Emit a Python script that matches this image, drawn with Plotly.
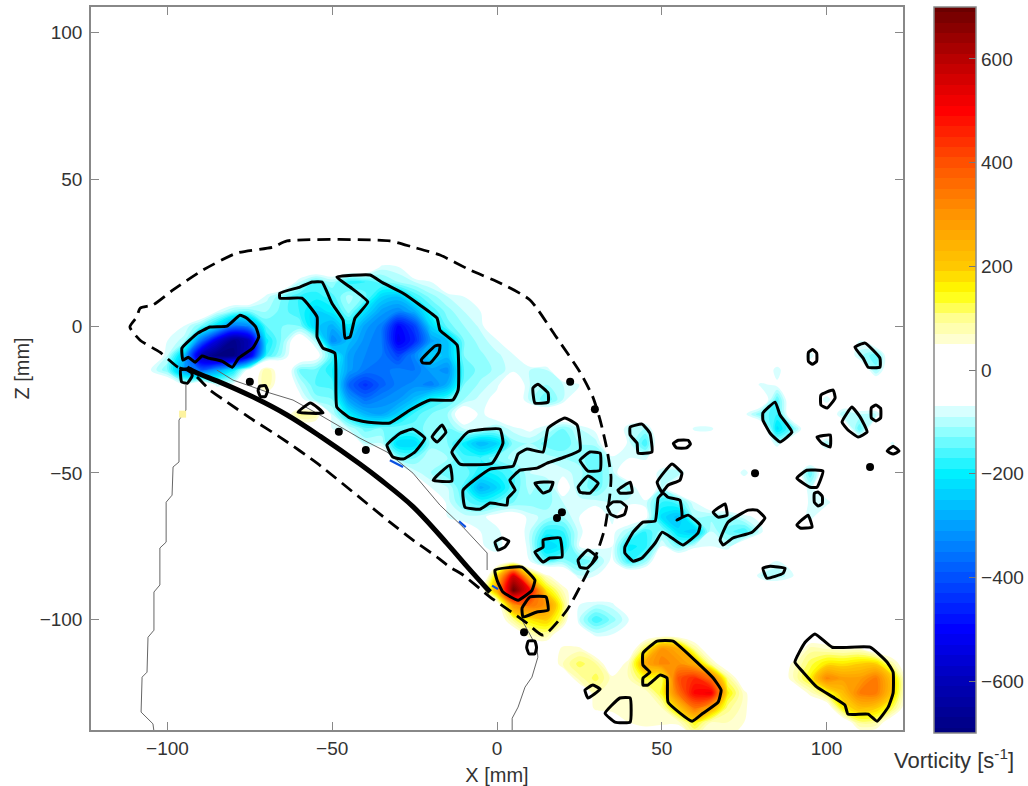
import plotly.graph_objects as go

# vorticity grid (s^-1): rows by Z [mm], each row as (first X, values at 5 mm steps)
x_grid = list(range(-105, 130, 5))
z_grid = list(range(115, -145, -5))
empty_rows_above = [[] for _ in range(18)]
row_25 = []
row_20 = [(-35, [-80, -75])]
row_15 = [(-60, [-90, -150, -110, -180, -170, -140, -110, -90, -70])]
row_10 = [(-70, [-80, -130, -170, -180, -160, -100, -140, -230, -250, -170, -120, -90, -70])]
row_5 = [(-85, [-70, -120, -130, -110, -140, -170, -230, -200, -120, -220, -300, -330, -280, -170, -120, -90, -70])]
row_0 = [(-95, [-70, -130, -220, -350, -320, -150, -130, -130, -240, -280, -200, -300, -340, -500, -420, -230, -140, -110, -85])]
row_m5 = [(-100, [-70, -100, -350, -550, -680, -600, -200, -120, -20, -100, -330, -260, -320, -350, -520, -450, -300, -250, -130, -100, -75]), (110, [-70])]
row_m10 = [(-100, [-90, -250, -600, -700, -700, -550, -170, -100, -10, -40, -160, -300, -330, -350, -420, -330, -230, -260, -130, -115, -95, -75]), (95, [-90]), (110, [-100, -150])]
row_m15 = [(-105, [-70, -130, -300, -380, -300, -200, -40, 95, 0, -130, -140, -190, -300, -350, -360, -340, -350, -300, -320, -150, -120, -105, -75, -90, -90]), (85, [-90]), (115, [-120])]
row_m20 = [(-95, [-60, 0, -80, -60, 0, 95, 0, -90, -150, -160, -370, -440, -380, -340, -320, -340, -280, -130, -105, -75, -30, -90, -110, -90, -70]), (80, [-80, -60])]
row_m25 = [(-65, [0, -50, -120, -130, -300, -360, -330, -310, -260, -180, -150, -110, -80, -60, -20, -100, -150, -90]), (85, [-150]), (100, [-90])]
row_m30 = [(-60, [100, 90, -90, -200, -270, -290, -240, -160, -130, -110, -20, -80, -40, 0]), (75, [-60, -130, -170]), (105, [-110, -90]), (115, [-90])]
row_m35 = [(-50, [-70, -90, -140, -130, -130, -140, -120, -130, -90, -90, -110, -80, -60, -90, -130, -90, -60]), (40, [-100, -110]), (60, [-80, -80]), (85, [-220, -130]), (110, [-150])]
row_m40 = [(-40, [-90, -90, -230, -230, -120, -130, -200, -270, -230, -120, -110, -140, -150, -110, -100]), (40, [-80, -170]), (85, [-90]), (100, [-110]), (120, [-80])]
row_m45 = [(-30, [-120, -130, -90, -110, -160, -170, -130, -100, -90, -100, -110, -120, -150, -80]), (40, [-70, -80])]
row_m50 = [(-25, [-80, -110, -150, -130, -190, -180, -150, -90, -70, -80, -100, -150, -100]), (50, [-100, -110]), (75, [-90]), (95, [-150])]
row_m55 = [(-20, [-70, -90, -160, -280, -230, -150, -100, -130, -40, -110, -150, -90, -120]), (50, [-100]), (70, [-70]), (95, [-90])]
row_m60 = [(-15, [-80, -140, -170, -150, -130, -120, -120, -90, -80, -80, -90, -80, -80, -170, -150, -70]), (95, [-80, -90])]
row_m65 = [(-15, [-70, -80, -80, -50, -40, -80, -100, -110, -70, -40, -80, -20, -50, -220, -260, -110, -120, -110, -80, -60]), (95, [-90])]
row_m70 = [(-10, [-50, -70, -80, -30, -90, -180, -170, -80, -30, -60, -110, -170, -120, -220, -250, -90, -140, -170, -80])]
row_m75 = [(-5, [-60, -100, 0, -90, -230, -200, -70, -60, -70, -200, -180, -70, -130, -80, -70, -90])]
row_m80 = [(0, [-20, 0, -70, -150, -120, -150, -120, -60, -170, -120]), (85, [-70])]
row_m85 = [(-5, [-70, 180, 550, 180, 60, 0, -90, -70]), (80, [-90, -110, -70])]
row_m90 = [(0, [250, 700, 500, 170, 70])]
row_m95 = [(5, [300, 350, 300, 120, -70, -90, -80])]
row_m100 = [(5, [100, 170, 200, 100, -90, -170, -120, -70])]
row_m105 = [(10, [70, 90, 0, -30, -80, -70, -60])]
row_m110 = [(20, [60, 60, 0, 0, 0, 130, 300, 250, 90]), (95, [80, 70, 60, 60])]
row_m115 = [(20, [70, 120, 90, 0, 70, 260, 320, 300, 250, 80]), (90, [60, 120, 170, 170, 190, 190, 80])]
row_m120 = [(25, [80, 120, 60, 70, 140, 120, 400, 450, 350, 100]), (90, [70, 150, 320, 280, 280, 340, 200])]
row_m125 = [(30, [70, 60, 70, 50, 140, 350, 500, 520, 160, 60]), (95, [60, 130, 220, 330, 340, 200])]
row_m130 = [(30, [60, 70, 60, 60, 70, 200, 350, 250, 100, 60]), (105, [160, 220, 200, 120])]
row_m135 = [(40, [50, 70, 60, 60, 150, 70, 70, 50]), (110, [100, 90])]
row_m140 = [(60, [60, 60, 60])]

all_rows = empty_rows_above + [row_25, row_20, row_15, row_10, row_5, row_0, row_m5, row_m10, row_m15, row_m20, row_m25, row_m30,
            row_m35, row_m40, row_m45, row_m50, row_m55, row_m60, row_m65, row_m70, row_m75, row_m80, row_m85,
            row_m90, row_m95, row_m100, row_m105, row_m110, row_m115, row_m120, row_m125, row_m130, row_m135, row_m140]

# colour table
cs_vals = [-700, -600, -500, -400, -300, -200, -120, -80, -66, 44, 60, 100, 150, 200, 300, 400, 500, 600, 700]
cs_cols = ["#000080", "#0000b8", "#0000ff", "#0050ff", "#00a0ff", "#00f0ff", "#90ffff", "#d8ffff", "#ffffff",
           "#ffffff", "#ffffd0", "#ffff90", "#ffff00", "#ffc800", "#ff9400", "#ff5000", "#ff0000", "#b80000", "#6a0000"]

# black contour outlines, X/Z in mm
outline_main = [(-48.6,16.7),(-38.5,17.4),(-34.6,14.7),(-28.5,11.2),(-23.4,7.2),(-18.2,2.7),(-17.3,-1.4),(-12.1,-6.5),(-11.8,-21.8),(-13.4,-25.2),(-20.3,-25.2),(-26.4,-28.6),(-32.5,-33),(-39.5,-32.7),(-44.6,-31.3),(-48.6,-27.6),(-49.2,-9.2),(-52.8,-7.5),(-54.6,-3.7),(-54.6,3.1),(-59.2,9.5),(-65.9,9.5),(-65.9,11.2),(-59.8,13.3),(-56.1,15),(-53.1,15),(-50.1,7.8),(-46.7,2),(-46.1,-4.1),(-44.6,-3.7),(-43.1,2.7),(-39.2,8.2),(-44.6,13.3)]
outline_hole = [(-23,-11.6),(-18.8,-6.8),(-17.3,-6.5),(-17.6,-8.9),(-20.3,-12.6),(-22.5,-12.6)]
outline_dark = [(-95.6,-7.5),(-90.8,-2.4),(-87.1,-0.3),(-81.9,0),(-78,3.7),(-75.9,2.7),(-73.2,-0.3),(-72.3,-3.7),(-74.1,-7.5),(-78.4,-10.9),(-80.3,-14),(-83.3,-12),(-87.6,-10.9),(-89.5,-10.2),(-91.6,-12.3),(-93.7,-10.6),(-95.3,-11.6)]
outline_tip = [(-96,-15),(-93,-14.5),(-92.5,-17),(-94,-19.5),(-95.7,-19)]
outline_ring = [(-72,-20.5),(-70.3,-20.3),(-69.6,-22),(-70.3,-24),(-71.8,-24),(-72.5,-22)]
outline_tri = [(-60.4,-29.3),(-56.7,-26.2),(-54.3,-27.9),(-52.8,-29.6),(-58.3,-29.6)]
outline_a = [(-33.4,-40.5),(-29.4,-36.5),(-25.5,-35.1),(-21.9,-38.2),(-24.9,-42.9),(-28.5,-45.3),(-31.6,-44.6)]
outline_b = [(-19.7,-37.8),(-16.7,-33.7),(-15.5,-36.1),(-18.2,-39.5)]
outline_c = [(-13.7,-42.9),(-8.8,-36.1),(0.9,-35.1),(1.8,-39.9),(-1.5,-46.7),(-11.2,-47)]
outline_d = [(-19.4,-52.5),(-14.3,-47.4),(-13.7,-52.8)]
outline_e = [(-10.3,-55.9),(-2.1,-48.7),(4.9,-47.7),(6.4,-43.6),(9.1,-41.9),(14,-42.9),(15.5,-34.8),(20.6,-31.3),(24.3,-33.7),(25.2,-42.2),(20.6,-44.6),(15.2,-46.7),(12.1,-48.4),(7,-49.1),(3.9,-52.5),(5.5,-55.9),(3.3,-58.6),(3,-61),(-2.1,-60.3),(-5.2,-62.4),(-9.7,-61.7)]
outline_f = [(10.9,-21.1),(12.4,-19.8),(15.5,-22.8),(15.5,-25.9),(11.5,-26.2)]
outline_g = [(25.2,-45.7),(28.2,-42.9),(31.3,-43.3),(31.3,-49.1),(27.6,-49.4)]
outline_h = [(11.5,-53.5),(17,-53.2),(16.1,-55.9),(14,-56.9)]
outline_i = [(24.6,-54.9),(27.6,-51.1),(30.7,-53.5),(28.2,-56.9),(25.2,-56.6)]
outline_k = [(-0.6,-73.6),(1.5,-72.2),(3.6,-73.3),(2.4,-75.3),(0.3,-76.3)]
outline_l = [(14,-72.9),(19.1,-72.2),(19.7,-78.7),(16,-79),(14,-80.4),(11.5,-77),(14,-75.3)]
outline_m = [(24.6,-79.7),(27.6,-76.3),(30.3,-78.7),(27.3,-82.5),(25.2,-82.1)]
outline_n = [(-0.6,-83.1),(7.6,-82.1),(11.5,-86.5),(10.6,-90),(6.4,-93.4),(1.8,-90.6),(0,-86.5)]
outline_o = [(10,-92.3),(14.9,-92.3),(15.5,-96.8),(12.1,-97.4),(7.9,-99.1),(7.6,-96.1)]
outline_ring2 = [(9.5,-107.3),(11.5,-107.3),(12,-109.5),(11.5,-111.6),(9.7,-111.6),(9,-109.5)]
outline_p = [(40.4,-34.4),(44,-33.4),(46.4,-36.5),(47,-42.9),(42.8,-43.3),(42.5,-39.9),(40.4,-37.1)]
outline_q = [(53.5,-40),(55,-38.9),(58,-38.9),(58.7,-40.2),(57.5,-41.5),(54.5,-41.5)]
outline_r = [(48.6,-53.2),(53.1,-47),(56.1,-50.1),(55.5,-52.5),(51.9,-54.2),(50.1,-56.6)]
outline_s = [(36.7,-55.9),(40.4,-53.2),(41,-56.6),(37.3,-56.9)]
outline_t = [(33.5,-61.5),(35.3,-59.9),(37.5,-59.9),(39.3,-61.5),(38.7,-64.1),(36.5,-65),(34.5,-64.1)]
outline_u = [(38.8,-75.3),(41.3,-70.2),(44.3,-66.8),(48,-66.4),(48.9,-58.6),(50.4,-56.9),(51.9,-58.3),(55.5,-59.3),(56.1,-65.1),(54.6,-66.1),(58,-64.4),(61.6,-67.8),(61,-70.5),(56.4,-74.6),(53.1,-72.2),(50.1,-70.2),(48,-73.9),(44,-79),(41.3,-80.1),(38.8,-77.3)]
outline_v = [(65.6,-63.4),(69.2,-60.6),(69.8,-64.4),(67.1,-65.1)]
outline_w = [(67.7,-72.9),(70.1,-66.8),(76.2,-62.7),(78.9,-62.7),(81.3,-65.4),(77.4,-70.2),(71.6,-72.2),(68.6,-74.6)]
outline_x = [(80.7,-82.5),(82.9,-81.8),(87.4,-82.5),(86.8,-84.2),(81.9,-85.9)]
outline_y = [(80.7,-29.6),(84.4,-25.9),(85.9,-30.3),(89.5,-36.1),(85.9,-39.5),(82.9,-36.5),(80.7,-32)]
outline_z = [(94.5,-9),(95.8,-8),(97,-9.2),(97,-12),(95.7,-13),(94.5,-12)]
outline_aa = [(108.6,-7.2),(111.7,-5.8),(116.2,-10.9),(116.2,-14),(112.6,-14),(111.1,-10.9)]
outline_ab = [(98.3,-23.5),(102,-21.8),(102.6,-24.5),(100.2,-27.9),(98.3,-26.9)]
outline_ac = [(104.7,-32.7),(107.7,-27.6),(110.2,-31),(112.3,-36.1),(109.6,-37.8),(106.5,-35.4)]
outline_ad = [(113.6,-27.8),(115,-26.9),(116.4,-28),(116.4,-31.3),(115,-32.3),(113.6,-31.3)]
outline_ae = [(97.1,-37.8),(101.1,-37.1),(101.1,-41.2),(98.6,-39.9)]
outline_af = [(118.4,-42.6),(120.2,-40.9),(122,-42.6),(120.2,-43.6)]
outline_ag = [(91,-51.8),(94,-49.1),(98.9,-49.4),(97.1,-54.9),(95,-54.9)]
outline_ah = [(96.3,-57),(97.4,-56.5),(98.7,-58),(98.7,-60.5),(97.4,-61.3),(96.3,-60)]
outline_ai = [(91,-67.8),(94.4,-64.4),(95.6,-68.5),(92,-68.8)]
outline_aj = [(44.3,-111.4),(48.6,-107.3),(53.4,-107.3),(61.6,-115.5),(65.6,-119.9),(68,-124),(67.1,-128.1),(62.5,-131.9),(59.2,-134.6),(51.9,-128.1),(51.6,-119.9),(49.5,-118.9),(45.8,-122.3),(44.3,-122.3),(44.3,-119.9),(46.4,-117.9),(44.3,-115.5)]
outline_ak = [(90.4,-114.5),(93.5,-107.7),(96.5,-104.9),(101.7,-109.4),(113.2,-109.4),(118.4,-114.5),(120.2,-117.9),(120.2,-125),(118.7,-129.8),(115.3,-134.6),(112.6,-132.2),(106.5,-132.2),(105.6,-129.1),(102,-126.4),(97.1,-123),(92.9,-117.9)]
outline_al = [(26.7,-124),(29.1,-122.3),(31.3,-123.7),(27.6,-126.7)]
outline_am = [(32.8,-131.9),(37.3,-126.7),(40.4,-126.7),(40.4,-134.9),(35.8,-134.9)]
closed_outlines = [outline_main, outline_hole, outline_dark, outline_tip, outline_ring, outline_tri, outline_a, outline_b,
                   outline_c, outline_d, outline_e, outline_f, outline_g, outline_h, outline_i, outline_k, outline_l,
                   outline_m, outline_n, outline_o, outline_ring2, outline_p, outline_q, outline_r, outline_s, outline_t,
                   outline_u, outline_v, outline_w, outline_x, outline_y, outline_z, outline_aa, outline_ab, outline_ac,
                   outline_ad, outline_ae, outline_af, outline_ag, outline_ah, outline_ai, outline_aj, outline_ak,
                   outline_al, outline_am]

# small solid contour dots
dots_x = [-75, -48, -39.8, 22.2, 29.7, 19.7, 18.2, 8.2, 78.3, 113.2]
dots_z = [-19, -36, -42.2, -19, -28.3, -63.4, -65.4, -104.3, -50.1, -48]

# airfoil section (thick), wake boundary (dashed), and measured surface (thin)
foil_x = [-94.1, -91, -84.1, -74, -63.7, -53.7, -41.6, -35.5, -25.5, -15.2, -9, -2.1]
foil_z = [-14.3, -16, -19.1, -24.2, -30.3, -37.5, -47, -52.2, -61.5, -74, -82, -90.6]
bound_x = [-94, -96.8, -102.3, -108.3, -111.4, -109.3, -108.3, -104.4, -98.3, -89.2, -78.9, -68, -63.7, -32.5, -25.5, -17.3, -8.2, 0.9, 10, 17.6, 25.2, 29.1, 31.3, 33.4, 34.6, 34.3, 32.8, 30.3, 27.3, 21.2, 14, 9.1, 4.9, -2.1, -10.3, -14.3, -18.2, -25.5, -32.5, -54.6, -65.9, -74, -81.9, -87.1, -91, -94]
bound_z = [-15, -14, -8.9, -4.8, -0.3, 3.1, 6.1, 7.2, 12.3, 19.1, 24.9, 26.9, 29, 29, 26.9, 24.2, 19.1, 14.7, 8.9, -3.1, -15.7, -24.2, -32, -42.2, -51.4, -56.9, -68.5, -77.3, -84.2, -96.8, -105.3, -101.2, -97.8, -92.3, -84.8, -82.1, -78.7, -72.9, -66.8, -46.7, -37.8, -32, -25.9, -21.8, -17.4, -15]
surf_left_x = [-94.4, -94.4, -96.5, -96.5, -98.3, -98.6, -100.4, -100.4, -102.3, -102.3, -104.1, -104.1, -105.9, -106.2, -107.7, -108, -104.4, -104.1]
surf_left_z = [-20, -28.6, -32, -46.3, -48, -57.6, -60, -73.6, -75.6, -88.2, -90.6, -103.6, -106, -117.9, -119.6, -131.5, -135.5, -138]
surf_top_x = [-85, -80.1, -68.9, -61.9, -53.7, -41.6, -33.4, -25.5, -17.3, -10.3, -3, -3]
surf_top_z = [-15, -18.4, -22.8, -25.2, -30.3, -38.2, -42.9, -50.1, -61, -68.5, -77.3, -83.1]
surf_aft_x = [7.6, 12.1, 12.4, 10.6, 8.5, 6.4, 4.6, 4.6]
surf_aft_z = [-100.2, -109.4, -112.8, -119.6, -123, -129.8, -133.6, -137.6]
blue_bits_x = [-32.5, -28.5, None, -11.5, -9.5, None, -1.5, 0.3]
blue_bits_z = [-45.7, -48, None, -66.5, -68.5, None, -88.4, -89.6]
pale_x = [-95.4]
pale_z = [-30]

tick_vals = [-100, -50, 0, 50, 100]
cbar_ticks = [-600, -400, -200, 0, 200, 400, 600]


def row(segs):
    r = [0] * len(x_grid)
    for start, vals in segs:
        i = x_grid.index(start)
        r[i:i + len(vals)] = vals
    return r


z_values = [row(s) for s in all_rows]
colorscale = [[(v + 700) / 1400, c] for v, c in zip(cs_vals, cs_cols)]

ol_x, ol_z = [], []
for poly in closed_outlines:
    ol_x += [p[0] for p in poly] + [poly[0][0], None]
    ol_z += [p[1] for p in poly] + [poly[0][1], None]

FONT = "Liberation Sans"
TICK = dict(family=FONT, size=19, color="#333")
TITLE = dict(family=FONT, size=20, color="#333")
fig = go.Figure()
fig.add_trace(go.Contour(
    x=x_grid, y=z_grid, z=z_values, colorscale=colorscale, zmin=-700, zmax=700, hoverinfo="skip",
    contours=dict(start=-710, end=710, size=20, coloring="fill", showlines=False),
    line=dict(width=0, smoothing=1),
    colorbar=dict(x=(934 - 91) / 812, xanchor="left", xpad=0, ypad=0, y=1, yanchor="top", len=726, lenmode="pixels",
                  thickness=42, thicknessmode="pixels", tickvals=cbar_ticks, ticks="inside", ticklen=7,
                  tickcolor="#777", outlinecolor="#888", outlinewidth=1.5, tickfont=TICK),
))
for xs, zs in [(surf_left_x, surf_left_z), (surf_top_x, surf_top_z), (surf_aft_x, surf_aft_z)]:
    fig.add_trace(go.Scatter(x=xs, y=zs, mode="lines", line=dict(color="#666", width=1), hoverinfo="skip"))
fig.add_trace(go.Scatter(x=blue_bits_x, y=blue_bits_z, mode="lines", line=dict(color="#0a50e0", width=2.2), hoverinfo="skip"))
fig.add_trace(go.Scatter(x=pale_x, y=pale_z, mode="markers", marker=dict(symbol="square", size=7, color="#fdf3a0"), hoverinfo="skip"))
fig.add_trace(go.Scatter(x=bound_x, y=bound_z, mode="lines", line=dict(color="black", width=2.8, dash="13px,7px", shape="spline", smoothing=0.6), hoverinfo="skip"))
fig.add_trace(go.Scatter(x=foil_x, y=foil_z, mode="lines", line=dict(color="black", width=5, shape="spline", smoothing=1), hoverinfo="skip"))
fig.add_trace(go.Scatter(x=ol_x, y=ol_z, mode="lines", line=dict(color="black", width=3, shape="spline", smoothing=0.4), hoverinfo="skip"))
fig.add_trace(go.Scatter(x=dots_x, y=dots_z, mode="markers", marker=dict(color="black", size=8), hoverinfo="skip"))

axis_common = dict(showgrid=False, zeroline=False, showline=True, linecolor="#888", linewidth=1.5, mirror="ticks",
                   ticks="inside", ticklen=8, tickcolor="#888", tickvals=tick_vals, tickfont=TICK)
fig.update_xaxes(range=[-123.2, 123.2], title=dict(text="X [mm]", font=TITLE, standoff=10), **axis_common)
fig.update_yaxes(range=[-137.6, 108.7], ticklabelstandoff=3, title=dict(text="Z [mm]", font=TITLE, standoff=5), **axis_common)
fig.update_layout(
    width=1028, height=786, showlegend=False, paper_bgcolor="white", plot_bgcolor="white",
    margin=dict(l=91, r=125, t=7, b=56, autoexpand=False),
    annotations=[dict(text="Vorticity [s<sup>-1</sup>]", xref="paper", yref="paper", x=(954 - 91) / 812, y=-0.04,
                      xanchor="center", yanchor="middle", showarrow=False, font=dict(family=FONT, size=22, color="#333"))],
)
fig.write_html("out.html", post_script="document.body.style.margin='0';", config=dict(displayModeBar=False))
